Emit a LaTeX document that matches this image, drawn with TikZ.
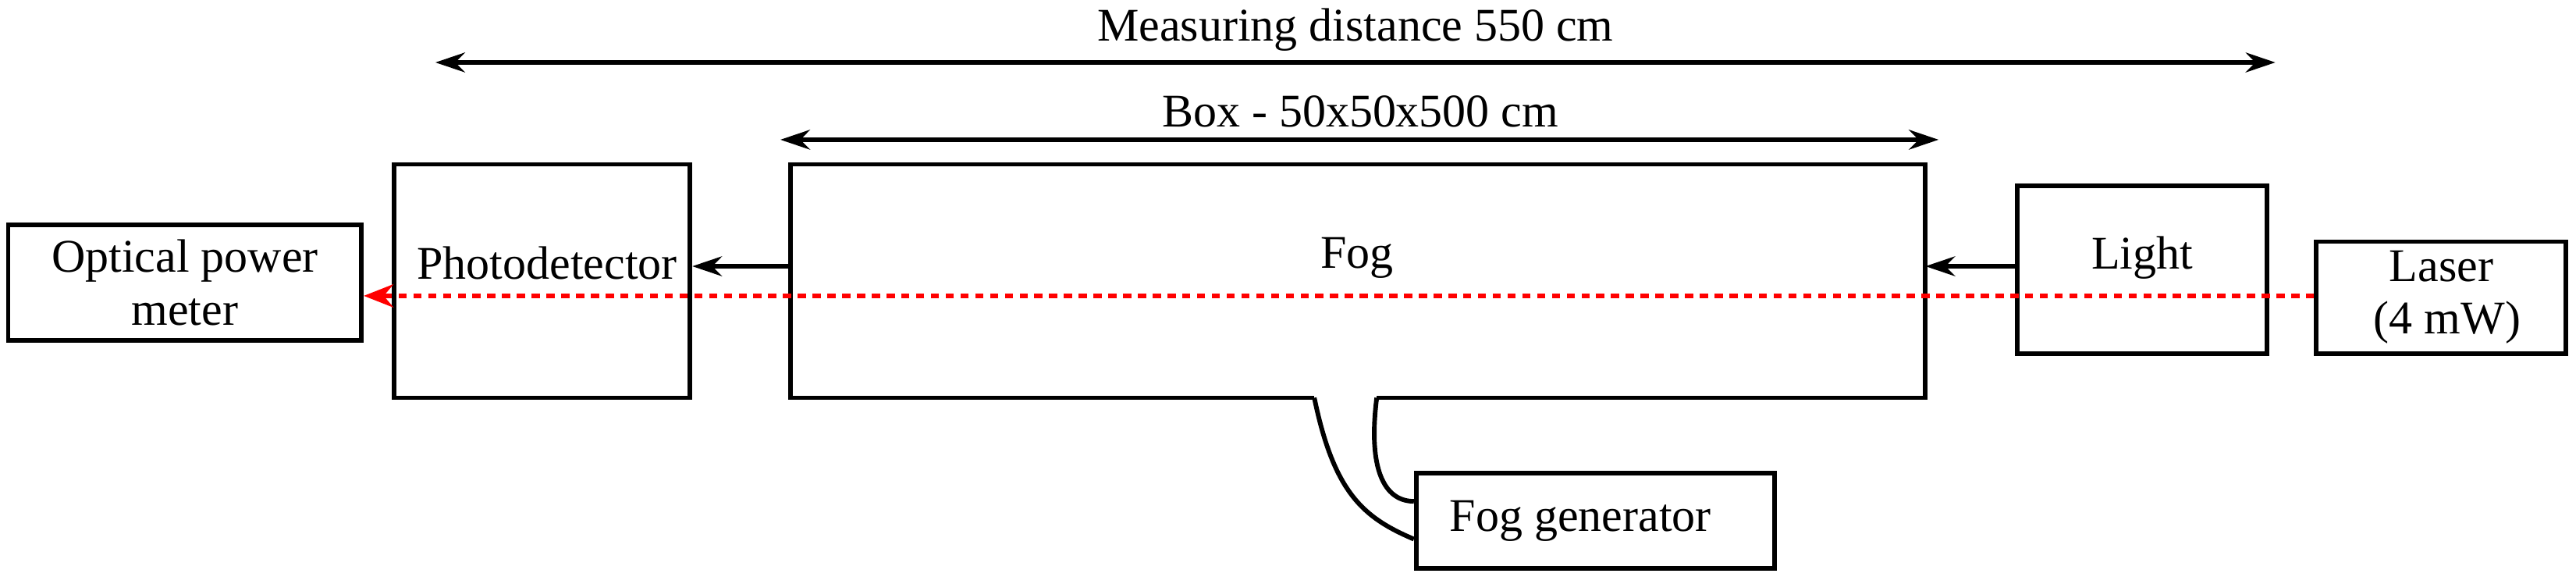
\documentclass[tikz,border=0pt]{standalone}
\usepackage{fontspec}
\setmainfont{Liberation Serif}
\usetikzlibrary{arrows.meta}
\begin{document}
\begin{tikzpicture}[x=1pt,y=-1pt,line width=2.8pt,
  box/.style={draw,inner sep=0pt,font=\fontsize{28.5}{32}\selectfont},
  lbl/.style={font=\fontsize{28.5}{32}\selectfont},
  arr/.style={-{Stealth[length=18pt,width=12pt]}},
  darr/.style={{Stealth[length=18pt,width=12pt]}-{Stealth[length=18pt,width=12pt]}}]
\useasboundingbox (0,0) rectangle (1568,355);
\node[box,minimum width=215pt,minimum height=70pt,align=center] (opm) at (112.5,172) {Optical power\\meter};
\node[box,minimum width=180pt,minimum height=142pt] (pd) at (330,171) {};
\node[lbl] (pdt) at (333,160) {Photodetector};
\draw (838,242) -- (1172,242) -- (1172,100) -- (481,100) -- (481,242) -- (800,242);
\coordinate (fogL) at (481,162);
\coordinate (fogR) at (1172,162);
\node[lbl] (fogt) at (826,157) {Fog};
\node[box,minimum width=152pt,minimum height=102pt] (light) at (1304,164) {};
\node[lbl] (lightt) at (1304,157) {Light};
\node[box,minimum width=152pt,minimum height=68pt,align=center] (laser) at (1486,181) {Laser\\\ (4 mW)};
\node[box,minimum width=218pt,minimum height=58pt] (fg) at (971,317) {};
\node[lbl] (fgt) at (962,317) {Fog generator};
\coordinate (t1) at (800,242);
\coordinate (t2) at (838,242);
\draw (t1) .. controls (812,300) and (830,315) .. (fg.west |- 0,328);
\draw (t2) .. controls (832,290) and (845,305) .. (fg.west |- 0,305);
\draw[arr] (fogL) -- (pd.east |- fogL);
\draw[arr] (light.west |- fogR) -- (fogR);
\draw[red,dashed,dash pattern=on 5pt off 4pt,line width=2.8pt,-{Stealth[length=18pt,width=14pt]}] (laser.west |- 0,180) -- (opm.east |- 0,180);
\coordinate (m1) at (265,38); \coordinate (m2) at (1385,38);
\draw[darr] (m1) -- (m2);
\node[lbl] (mt) at (825,18) {Measuring distance 550 cm};
\coordinate (b1) at (475,85); \coordinate (b2) at (1180,85);
\draw[darr] (b1) -- (b2);
\node[lbl] (bt) at (828,68) {Box - 50x50x500 cm};
\end{tikzpicture}
\end{document}
